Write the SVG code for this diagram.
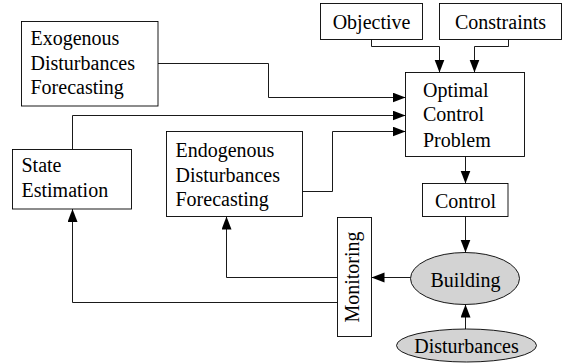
<svg xmlns="http://www.w3.org/2000/svg" width="568" height="363" viewBox="0 0 568 363">
<defs>
<marker id="ah" markerUnits="userSpaceOnUse" markerWidth="14" markerHeight="11" refX="13" refY="5" orient="auto">
<path d="M0,0 L13,5 L0,10 z" fill="#000"/>
</marker>
</defs>
<rect width="568" height="363" fill="#fff"/>
<g id="connectors" fill="none" stroke="#000" stroke-width="0.9">
<path d="M158,63.5 H268.5 V97.5 H405.5" marker-end="url(#ah)"/>
<path d="M72.5,149.5 V115.5 H405.5" marker-end="url(#ah)"/>
<path d="M302.5,191.5 H332.5 V131.5 H405.5" marker-end="url(#ah)"/>
<path d="M371.5,39.5 V46.5 H439.5 V72.5" marker-end="url(#ah)"/>
<path d="M508.5,39.5 V46.5 H474.5 V72.5" marker-end="url(#ah)"/>
<path d="M465.5,156.5 V183.5" marker-end="url(#ah)"/>
<path d="M465.5,216.5 V252.5" marker-end="url(#ah)"/>
<path d="M465.5,329 V304.5" marker-end="url(#ah)"/>
<path d="M410.5,277.5 H371.5" marker-end="url(#ah)"/>
<path d="M337.5,277.5 H226.5 V216.5" marker-end="url(#ah)"/>
<path d="M337.5,302.5 H72.5 V209" marker-end="url(#ah)"/>
</g>
<g stroke="#000" stroke-width="0.9" fill="#fff">
<rect id="exo-box" x="21.5" y="21.5" width="136.5" height="84.5"/>
<rect id="state-box" x="12.5" y="149.5" width="119" height="59.5"/>
<rect id="endo-box" x="166.5" y="131.5" width="136" height="85"/>
<rect id="ocp-box" x="405.5" y="72.5" width="119" height="84"/>
<rect id="objective-box" x="320.5" y="3.5" width="102" height="36"/>
<rect id="constraints-box" x="439.5" y="3.5" width="122" height="36"/>
<rect id="control-box" x="422.5" y="183.5" width="85.5" height="33"/>
<rect id="monitoring-box" x="337.5" y="217.5" width="34" height="119"/>
<ellipse id="building-ell" cx="465" cy="278.5" rx="54.5" ry="26" fill="#d3d3d3"/>
<ellipse id="disturbances-ell" cx="466.5" cy="345.5" rx="70" ry="16.5" fill="#d3d3d3"/>
</g>
<g font-family="Liberation Serif" font-size="20" fill="#000">
<g id="exo">
<text x="30.5" y="45">Exogenous</text>
<text x="30.5" y="69.5">Disturbances</text>
<text x="30.5" y="93.5">Forecasting</text>
</g>
<g id="state">
<text x="21.5" y="172">State</text>
<text x="21.5" y="197">Estimation</text>
</g>
<g id="endo">
<text x="175.5" y="157">Endogenous</text>
<text x="175.5" y="181.5">Disturbances</text>
<text x="175.5" y="206">Forecasting</text>
</g>
<g id="ocp">
<text x="423" y="97">Optimal</text>
<text x="423" y="121">Control</text>
<text x="423" y="146.5">Problem</text>
</g>
<g id="objective">
<text text-anchor="middle" x="371.5" y="28.5">Objective</text>
</g>
<g id="constraints">
<text text-anchor="middle" x="500.5" y="28.5">Constraints</text>
</g>
<g id="control">
<text text-anchor="middle" x="465.5" y="208">Control</text>
</g>
<g id="monitoring">
<text text-anchor="middle" transform="translate(358.5,277) rotate(-90)">Monitoring</text>
</g>
<g id="building">
<text text-anchor="middle" x="465.5" y="286.5">Building</text>
</g>
<g id="disturbances">
<text text-anchor="middle" x="466.5" y="353">Disturbances</text>
</g>
</g>
</svg>
